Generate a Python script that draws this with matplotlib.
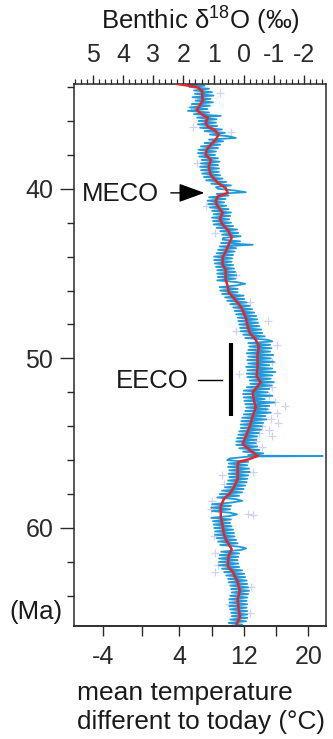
import numpy as np
import matplotlib
matplotlib.use('Agg')
import matplotlib.pyplot as plt
from matplotlib.ticker import MultipleLocator

plt.rcParams['font.family'] = ['Liberation Sans', 'DejaVu Sans']
plt.rcParams['axes.unicode_minus'] = False
plt.rcParams['mathtext.fontset'] = 'custom'
plt.rcParams['mathtext.rm'] = 'Liberation Sans'

# ---------------- data ----------------
# smoothed record (red)
RED_AGE = [33.82, 33.9, 34.0, 34.2, 34.8, 35.1, 35.35, 35.65, 35.8, 36.1, 36.35, 36.5, 36.8,
           37.1, 37.4, 37.7, 38.0, 38.3, 38.7, 39.2, 39.65, 39.95, 40.25, 40.45, 40.75,
           41.05, 41.4, 41.8, 42.1, 42.5, 42.9, 43.3, 43.7, 44.05, 44.5, 44.75, 45.35,
           45.75, 46.1, 46.5, 46.95, 47.3, 47.6, 48.1, 48.5, 48.9, 49.3, 49.75, 50.5,
           51.05, 51.4, 51.65, 52.0, 52.4, 52.9, 53.4, 54.0, 54.6, 55.05, 55.45, 55.75,
           55.95, 56.1, 56.35, 57.1, 57.5, 57.9, 58.3, 58.7, 59.3, 59.9, 60.35, 60.65,
           61.25, 61.65, 62.25, 62.6, 63.2, 63.7, 64.2, 64.75, 65.25, 65.65]
RED_D18O = [2.20, 1.90, 1.55, 1.39, 1.36, 1.46, 1.56, 1.36, 1.19, 1.26, 1.19, 0.99, 0.83,
            0.93, 1.09, 1.23, 1.26, 1.09, 1.16, 1.09, 0.86, 0.60, 0.53, 0.86, 0.93,
            0.86, 0.70, 0.79, 0.70, 0.50, 0.40, 0.50, 0.60, 0.70, 0.70, 0.60, 0.60,
            0.53, 0.50, 0.30, 0.10, 0.00, -0.07, -0.13, -0.20, -0.40, -0.50, -0.46, -0.46,
            -0.43, -0.56, -0.46, -0.30, -0.33, -0.40, -0.30, -0.20, -0.07, 0.03, -0.23, -0.46,
            -0.17, 0.17, 0.20, 0.20, 0.30, 0.43, 0.66, 0.76, 0.76, 0.70, 0.66, 0.60,
            0.40, 0.50, 0.53, 0.36, 0.20, 0.13, 0.20, 0.17, 0.13, 0.23]

# high-resolution record (blue), one row per Myr
BLUE_AGE = [33.85, 33.92,
            34.0, 34.1, 34.2, 34.3, 34.4, 34.5, 34.6, 34.7, 34.8, 34.9,
            35.0, 35.1, 35.2, 35.3, 35.4, 35.5, 35.6, 35.7, 35.8, 35.9,
            36.0, 36.1, 36.2, 36.3, 36.4, 36.5, 36.6, 36.7, 36.8, 36.9,
            37.0, 37.1, 37.2, 37.3, 37.4, 37.5, 37.6, 37.7, 37.8, 37.9,
            38.0, 38.1, 38.2, 38.3, 38.4, 38.5, 38.6, 38.7, 38.8, 38.9,
            39.0, 39.1, 39.2, 39.3, 39.4, 39.5, 39.6, 39.7, 39.8, 39.9,
            40.0, 40.1, 40.2, 40.3, 40.4, 40.5, 40.6, 40.7, 40.8, 40.9,
            41.0, 41.1, 41.2, 41.3, 41.4, 41.5, 41.6, 41.7, 41.8, 41.9,
            42.0, 42.1, 42.2, 42.3, 42.4, 42.5, 42.6, 42.7, 42.8, 42.9,
            43.0, 43.1, 43.2, 43.3, 43.4, 43.5, 43.6, 43.7, 43.8, 43.9,
            44.0, 44.1, 44.2, 44.3, 44.4, 44.5, 44.6, 44.7, 44.8, 44.9,
            45.0, 45.1, 45.2, 45.3, 45.4, 45.5, 45.6, 45.7, 45.8, 45.9,
            46.0, 46.1, 46.2, 46.3, 46.4, 46.5, 46.6, 46.7, 46.8, 46.9,
            47.0, 47.1, 47.2, 47.3, 47.4, 47.5, 47.6, 47.7, 47.8, 47.9,
            48.0, 48.1, 48.2, 48.3, 48.4, 48.5, 48.6, 48.7, 48.8, 48.9,
            49.0, 49.1, 49.2, 49.3, 49.4, 49.5, 49.6, 49.7, 49.8, 49.9,
            50.0, 50.1, 50.2, 50.3, 50.4, 50.5, 50.6, 50.7, 50.8, 50.9,
            51.0, 51.1, 51.2, 51.3, 51.4, 51.5, 51.6, 51.7, 51.8, 51.9,
            52.0, 52.1, 52.2, 52.3, 52.4, 52.5, 52.6, 52.7, 52.8, 52.9,
            53.0, 53.1, 53.2, 53.3, 53.4, 53.5, 53.6, 53.7, 53.8, 53.9,
            54.0, 54.1, 54.2, 54.3, 54.4, 54.5, 54.6, 54.7, 54.8, 54.9,
            55.0, 55.1, 55.2, 55.3, 55.4, 55.5, 55.6, 55.7, 55.74, 55.76, 55.78, 55.8, 55.9,
            56.0, 56.1, 56.2, 56.3, 56.4, 56.5, 56.6, 56.7, 56.8, 56.9,
            57.0, 57.1, 57.2, 57.3, 57.4, 57.5, 57.6, 57.7, 57.8, 57.9,
            58.0, 58.1, 58.2, 58.3, 58.4, 58.5, 58.6, 58.7, 58.8, 58.9,
            59.0, 59.1, 59.2, 59.3, 59.4, 59.5, 59.6, 59.7, 59.8, 59.9,
            60.0, 60.1, 60.2, 60.3, 60.4, 60.5, 60.6, 60.7, 60.8, 60.9,
            61.0, 61.1, 61.2, 61.3, 61.4, 61.5, 61.6, 61.7, 61.8, 61.9,
            62.0, 62.1, 62.2, 62.3, 62.4, 62.5, 62.6, 62.7, 62.8, 62.9,
            63.0, 63.1, 63.2, 63.3, 63.4, 63.5, 63.6, 63.7, 63.8, 63.9,
            64.0, 64.1, 64.2, 64.3, 64.4, 64.5, 64.6, 64.7, 64.8, 64.9,
            65.0, 65.1, 65.2, 65.3, 65.4, 65.5, 65.6, 65.7]
BLUE_D18O = [1.95, 1.30,
             1.80, 1.15, 1.65, 1.05, 1.62, 1.00, 1.70, 1.10, 1.60, 1.02,
             1.72, 1.12, 1.78, 1.20, 1.85, 1.15, 1.65, 0.76, 1.55, 0.90,
             1.50, 0.92, 1.52, 0.88, 1.45, 0.72, 1.30, 0.62, 1.12, 0.50,
             0.26, 1.15, 0.68, 1.30, 0.78, 1.42, 0.85, 1.50, 0.92, 1.52,
             0.95, 1.48, 0.85, 1.40, 0.80, 1.42, 0.85, 1.45, 0.82, 1.42,
             0.82, 1.38, 0.78, 1.32, 0.70, 1.25, 0.58, 1.08, 0.42, 0.92,
             0.85, 0.30, -0.07, 0.90, 0.50, 1.15, 0.60, 1.20, 0.65, 1.18,
             0.58, 1.12, 0.50, 1.05, 0.42, 1.00, 0.45, 1.05, 0.48, 1.02,
             0.42, 1.00, 0.35, 0.90, 0.22, 0.78, 0.18, 0.72, 0.10, 0.68,
             0.70, 0.12, 0.75, -0.30, 0.80, 0.25, 0.85, 0.30, 0.90, 0.35,
             0.98, 0.38, 0.98, 0.40, 0.96, 0.35, 0.92, 0.32, 0.88, 0.28,
             0.88, 0.25, 0.86, 0.28, 0.88, 0.24, -0.05, 0.25, 0.80, 0.20,
             0.78, 0.20, 0.72, 0.00, 0.62, -0.02, 0.55, -0.10, 0.45, -0.20,
             0.35, -0.28, 0.30, -0.35, 0.25, -0.42, 0.20, -0.45, 0.18, -0.48,
             0.15, -0.52, 0.12, -0.58, 0.10, -0.62, 0.02, -0.70, -0.05, -0.78,
             -0.95, -0.15, -0.88, -0.18, -0.92, -0.15, -0.88, -0.10, -0.98, -0.15,
             -0.90, -0.12, -1.00, -0.15, -0.85, -0.08, -0.95, -0.12, -1.05, -0.10,
             -0.95, -0.12, -0.90, -0.20, -1.00, -0.22, -0.92, -0.10, -0.85, 0.00,
             -0.80, 0.02, -0.95, 0.00, -0.70, -0.02, -1.02, -0.05, -0.85, -0.08,
             -0.80, -0.05, -0.90, 0.00, -0.72, 0.05, -0.75, 0.08, -0.65, 0.10,
             -0.60, 0.10, -0.58, 0.15, -0.50, 0.18, -0.45, 0.22, -0.42, 0.25,
             -0.40, 0.25, -0.45, 0.15, -0.52, 0.02, -0.65, -0.15, -0.60, -2.62, -0.45, -0.10, 0.45,
             0.55, -0.15, 0.50, -0.12, 0.52, -0.18, 0.48, -0.20, 0.50, -0.15,
             0.48, -0.12, 0.52, -0.10, 0.55, -0.05, 0.62, 0.00, 0.72, 0.05,
             0.80, 0.15, 0.88, 0.25, 0.05, 0.40, 1.05, 0.42, 1.08, 0.45,
             1.05, 0.45, 0.22, 0.48, 1.08, 0.42, 1.02, 0.45, 1.00, 0.40,
             0.98, 0.35, 0.95, 0.32, 0.95, 0.30, 0.90, 0.25, 0.85, 0.20,
             0.78, 0.15, -0.08, 0.10, 0.75, 0.15, 0.80, 0.18, 0.82, 0.20,
             0.82, 0.18, 0.82, 0.15, 0.72, 0.05, 0.65, -0.02, 0.58, -0.05,
             0.52, -0.10, 0.50, -0.12, 0.45, -0.15, 0.42, -0.18, 0.40, -0.15,
             0.45, -0.12, 0.48, -0.10, 0.46, -0.12, 0.48, -0.10, 0.45, -0.12,
             0.42, -0.12, 0.40, -0.12, 0.45, -0.08, 0.50, 0.05]

# individual measurements (lavender crosses)
PLUS_AGE = [34.35, 35.2, 36.35, 36.65, 38.5, 41.0, 42.6, 45.06, 46.7, 47.8, 48.4, 49.2,
            50.2, 50.9, 51.7, 52.2, 52.4, 52.6, 52.8, 53.0, 53.2, 53.4, 53.6, 53.8,
            54.0, 54.2, 54.4, 54.6, 54.9, 55.2, 55.4, 56.7, 56.9, 57.4, 58.4, 58.9,
            59.2, 59.25, 60.5, 61.5, 62.2, 62.6, 63.5, 64.5, 65.0]
PLUS_D18O = [0.77, 1.75, 1.67, 0.42, 1.55, 1.25, 0.95, 0.25, -0.22, -0.80, 0.25, -1.10,
             -0.95, 0.15, -0.95, -0.85, -0.55, -1.05, -1.38, -0.70, -1.10, -0.55, -0.90, -1.15,
             -0.60, -0.85, -0.50, -0.95, -0.40, -0.60, -0.25, -0.30, 0.72, 0.65, 1.05, 1.10,
             -0.15, -0.30, 1.00, 0.95, 0.85, 0.95, -0.25, 0.50, -0.20]

# axes ticks
D18O_TICKS = [5, 4, 3, 2, 1, 0, -1, -2]
D18O_LABELS = ['5', '4', '3', '2', '1', '0', '-1', '-2']
TEMP_TICKS = [-4, 0, 4, 8, 12, 16, 20]
TEMP_AT_D18O = [4.66, 3.37, 2.14, 1.05, 0.0, -1.07, -2.14]   # δ18O position of each temperature tick
TEMP_LABELS = ['-4', '', '4', '', '12', '', '20']
AGE_TICKS = [40, 50, 60]

# ---------------- figure ----------------
W, H = 333, 739
fig = plt.figure(figsize=(W / 100, H / 100), dpi=100)
ax = fig.add_axes([74 / W, 1 - 626 / H, 252 / W, 542 / H])

blue = '#1e9ad8'
red = '#e8232b'
lav = '#c6c6ee'
dark = '#2a2a2a'
txt = '#1a1a1a'

ax.plot(PLUS_D18O, PLUS_AGE, linestyle='none', marker='+', markersize=6,
        markeredgewidth=0.9, color=lav, alpha=0.8, zorder=1)
ax.plot(BLUE_D18O, BLUE_AGE, color=blue, lw=1.3, zorder=2)
ax.plot(RED_D18O, RED_AGE, color=red, lw=1.8, zorder=3)

ax.set_xlim(5.63, -2.73)
ax.set_ylim(65.78, 33.82)

# top axis: d18O
ax.xaxis.set_ticks_position('top')
ax.set_xticks(D18O_TICKS)
ax.set_xticklabels(D18O_LABELS)
ax.xaxis.set_minor_locator(MultipleLocator(0.2))
ax.tick_params(axis='x', which='major', direction='out', length=6.5, width=1.0,
               pad=6, labelsize=18, colors=dark)
ax.tick_params(axis='x', which='minor', direction='out', length=3.6, width=0.9, colors=dark)

# left axis: age
ax.set_yticks(AGE_TICKS)
ax.yaxis.set_minor_locator(MultipleLocator(2))
ax.tick_params(axis='y', which='major', direction='out', length=10, width=1.0,
               pad=5, labelsize=18, colors=dark)
ax.tick_params(axis='y', which='minor', direction='out', length=5, width=1.0, colors=dark)

for s in ax.spines.values():
    s.set_color(dark)
    s.set_linewidth(1.1)

# bottom axis: temperature
sec = ax.secondary_xaxis('bottom')
sec.set_xticks(TEMP_AT_D18O, labels=TEMP_LABELS)
sec.tick_params(direction='out', length=7, width=1.0, pad=7, labelsize=18, colors=dark)
sec.spines['bottom'].set_color(dark)
sec.spines['bottom'].set_linewidth(1.1)

# annotations
ax.text(2.80, 40.3, 'MECO', ha='right', va='center', fontsize=18.5, color=txt)
ax.annotate('', xy=(1.21, 40.24), xytext=(2.51, 40.24),
            arrowprops=dict(arrowstyle='-|>,head_length=0.8,head_width=0.29',
                            mutation_scale=20, color='black', lw=1.0))
ax.text(1.84, 51.35, 'EECO', ha='right', va='center', fontsize=18.5, color=txt)
ax.plot([1.51, 0.72], [51.29, 51.29], color='black', lw=1.0)
ax.plot([0.42, 0.42], [49.12, 53.41], color='black', lw=3.0, solid_capstyle='butt')

ax.text(-0.045, 64.94, '(Ma)', transform=ax.get_yaxis_transform(), ha='right',
        va='center', fontsize=18.5, color=txt)

fig.text(200 / W, 1 - 20 / H, r'Benthic δ$^{\mathregular{18}}$O (‰)', ha='center',
         va='center', fontsize=18.5, color=txt)
fig.text(77 / W, 1 - 693 / H, 'mean temperature', ha='left', va='center',
         fontsize=19, color=txt)
fig.text(77 / W, 1 - 722 / H, 'different to today (°C)', ha='left', va='center',
         fontsize=18.8, color=txt)

fig.savefig('out.png', dpi=100)
